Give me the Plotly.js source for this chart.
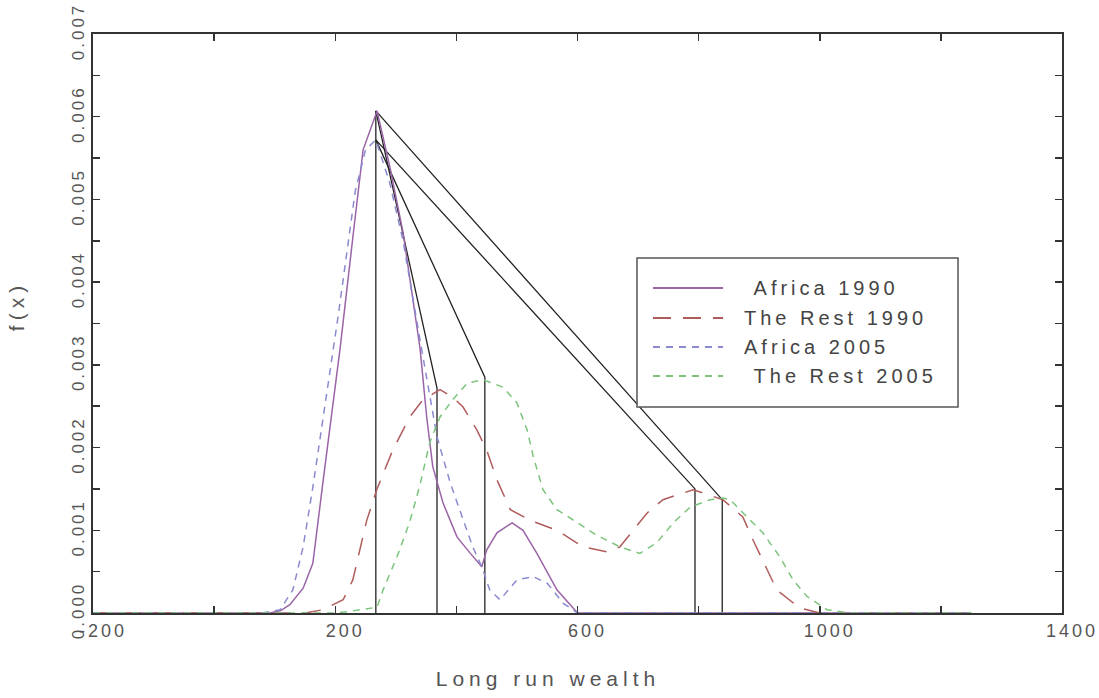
<!DOCTYPE html>
<html>
<head>
<meta charset="utf-8">
<script src="https://cdn.plot.ly/plotly-3.0.1.min.js"></script>
<style>
html, body { margin: 0; padding: 0; background: #fff; }
#chart { width: 1099px; height: 698px; }
.main-svg .xtick text { letter-spacing: 3px; }
.main-svg .ytick text { letter-spacing: 3px; }
.main-svg .xtitle, .main-svg .ytitle { letter-spacing: 5px; }
.main-svg .annotation-text { letter-spacing: 4px; }
</style>
</head>
<body>
<div id="chart"></div>
<script>
// ---- Data ----
const seriesNames = ["\u00a0Africa 1990", "The Rest 1990", "Africa 2005", "\u00a0The Rest 2005"];

const africa1990X = [-200, 50, 92, 110, 125, 147, 163, 180, 208, 230, 246, 269, 290, 312, 340, 351, 361, 378, 401, 422, 442, 450, 467, 492, 510, 533, 566, 600, 800, 1000, 1250];
const africa1990Y = [0, 0, 0, 0.00003, 0.0001, 0.0003, 0.0006, 0.0016, 0.0032, 0.0046, 0.0056, 0.00607, 0.0054, 0.0046, 0.0032, 0.00237, 0.00177, 0.00133, 0.00092, 0.00073, 0.00056, 0.00076, 0.00097, 0.00109, 0.001, 0.00072, 0.00028, 0, 0, 0, 0];

const rest1990X = [-200, 150, 180, 213, 229, 252, 269, 295, 323, 345, 373, 394, 411, 434, 450, 467, 489, 522, 566, 609, 649, 670, 692, 715, 741, 774, 791, 840, 873, 890, 913, 929, 967, 1000, 1250];
const rest1990Y = [0, 0, 0.00004, 0.00016, 0.0004, 0.00112, 0.0015, 0.00197, 0.00237, 0.00258, 0.0027, 0.00261, 0.00249, 0.00221, 0.00197, 0.00161, 0.00125, 0.00112, 0.001, 0.0008, 0.00074, 0.0008, 0.001, 0.00121, 0.00137, 0.00145, 0.00149, 0.00137, 0.00116, 0.00088, 0.00052, 0.00028, 0.00006, 0, 0];

const africa2005X = [-200, 80, 109, 130, 147, 163, 205, 233, 250, 267, 290, 312, 340, 368, 390, 411, 427, 442, 455, 472, 500, 527, 550, 576, 600, 800, 1000, 1250];
const africa2005Y = [0, 0, 0.00004, 0.00028, 0.0008, 0.00152, 0.0036, 0.0051, 0.0056, 0.00572, 0.0052, 0.0045, 0.0033, 0.00213, 0.00157, 0.00112, 0.0008, 0.00056, 0.00028, 0.00016, 0.0004, 0.00044, 0.00036, 0.00012, 0, 0, 0, 0];

const rest2005X = [-200, 200, 224, 269, 279, 302, 323, 340, 356, 373, 394, 418, 444, 477, 500, 517, 527, 543, 566, 600, 632, 670, 703, 731, 758, 786, 819, 840, 852, 880, 906, 934, 956, 979, 1012, 1050, 1250];
const rest2005Y = [0, 0, 0.00002, 0.00007, 0.00028, 0.00068, 0.0011, 0.00155, 0.00206, 0.00237, 0.00258, 0.00278, 0.00282, 0.00273, 0.00254, 0.00221, 0.00189, 0.00149, 0.00125, 0.00109, 0.00094, 0.0008, 0.00072, 0.00085, 0.00109, 0.00128, 0.00137, 0.00139, 0.00137, 0.00116, 0.00097, 0.00068, 0.0004, 0.0002, 0.00004, 0, 0];

// Black mode-connector lines (segments separated by null)
const modeLinesX = [267, 267, 839, 839, null, 267, 794, 794, null, 267, 368, 368, null, 267, 447, 447];
const modeLinesY = [0, 0.00607, 0.00137, 0, null, 0.00572, 0.0015, 0, null, 0.00607, 0.00272, 0, null, 0.00572, 0.00285, 0];

// Axis ticks
const xTickVals = [-200, 0, 200, 400, 600, 800, 1000, 1200, 1400];
const xTickText = ["-200", "", "200", "", "600", "", "1000", "", "1400"];
const yTickVals = [0, 0.0005, 0.001, 0.0015, 0.002, 0.0025, 0.003, 0.0035, 0.004, 0.0045, 0.005, 0.0055, 0.006, 0.0065, 0.007];
const yTickText = ["0.000", "", "0.001", "", "0.002", "", "0.003", "", "0.004", "", "0.005", "", "0.006", "", "0.007"];

// ---- Styles ----
const FONT = "Liberation Sans, Arial, sans-serif";
const TXT = "#555555";
const AX = "#333333";
const LEG_SPACING = 4; // px, matches the CSS letter-spacing on annotation text
const lineStyles = [
  {color: "#9a64a6", width: 1.5},
  {color: "#b05c5c", width: 1.5, dash: "18px,12px"},
  {color: "#8a8ad0", width: 1.5, dash: "7px,6px"},
  {color: "#7cc47c", width: 1.5, dash: "7px,6px"}
];
const seriesX = [africa1990X, rest1990X, africa2005X, rest2005X];
const seriesY = [africa1990Y, rest1990Y, africa2005Y, rest2005Y];

const traces = [
  {x: modeLinesX, y: modeLinesY, mode: "lines", line: {color: "#222222", width: 1.3}, showlegend: false, hoverinfo: "skip", connectgaps: false}
];
seriesNames.forEach((n, i) => {
  traces.push({x: seriesX[i], y: seriesY[i], name: n.trim(), mode: "lines", line: lineStyles[i], showlegend: false});
});

// ---- Hand-drawn legend box (paper coordinates) ----
const legBox = {x0: 0.5614, x1: 0.8927, y0: 0.3558, y1: 0.6131};
const legRowsY = [0.5613, 0.5095, 0.4594, 0.4093];
const legLineX = [0.5779, 0.6502];
const legTextX = 0.6698;

const shapes = [
  {type: "rect", xref: "paper", yref: "paper", x0: legBox.x0, x1: legBox.x1, y0: legBox.y0, y1: legBox.y1,
   fillcolor: "#ffffff", line: {color: "#555555", width: 1.5}, layer: "above"}
];
const annotations = [];
seriesNames.forEach((n, i) => {
  shapes.push({type: "line", xref: "paper", yref: "paper", x0: legLineX[0], x1: legLineX[1], y0: legRowsY[i], y1: legRowsY[i],
    line: Object.assign({}, lineStyles[i], {width: 2}), layer: "above"});
  annotations.push({xref: "paper", yref: "paper", x: legTextX, y: legRowsY[i], xanchor: "left", yanchor: "middle",
    xshift: n.length * LEG_SPACING / 2,
    text: n, showarrow: false, font: {family: FONT, size: 20, color: "#444444"}});
});

const layout = {
  width: 1099, height: 698,
  margin: {l: 93, r: 37, t: 34, b: 85},
  paper_bgcolor: "#ffffff", plot_bgcolor: "#ffffff",
  font: {family: FONT, size: 17, color: TXT},
  showlegend: false,
  xaxis: {
    range: [-200, 1400], showgrid: false, zeroline: false,
    showline: true, linecolor: AX, linewidth: 2, mirror: "ticks",
    ticks: "inside", ticklen: 7, tickcolor: AX, tickwidth: 1.5,
    tickvals: xTickVals, ticktext: xTickText, ticklabelshift: 10,
    tickfont: {family: FONT, size: 18, color: TXT},
    title: {text: "Long run wealth", font: {family: FONT, size: 21, color: TXT}, standoff: 32}
  },
  yaxis: {
    range: [0, 0.007], showgrid: false, zeroline: false,
    showline: true, linecolor: AX, linewidth: 2, mirror: "ticks",
    ticks: "inside", ticklen: 7, tickcolor: AX, tickwidth: 1.5,
    tickvals: yTickVals, ticktext: yTickText, tickangle: -90,
    tickfont: {family: FONT, size: 17, color: TXT},
    title: {text: "f(x)", font: {family: FONT, size: 21, color: TXT}, standoff: 30}
  },
  shapes: shapes,
  annotations: annotations
};

// Nudge axis titles to where the reference places them
function finishTouches() {
  const xt = document.querySelector(".main-svg .xtitle");
  if (xt) { xt.setAttribute("x", 548); }
  const yt = document.querySelector(".main-svg .ytitle");
  if (yt) {
    yt.setAttribute("x", 24); yt.setAttribute("y", 306);
    yt.setAttribute("transform", "rotate(-90,24,306)");
  }
}

const gd = document.getElementById("chart");
Plotly.newPlot(gd, traces, layout, {staticPlot: true, displayModeBar: false}).then(finishTouches);
</script>
</body>
</html>
